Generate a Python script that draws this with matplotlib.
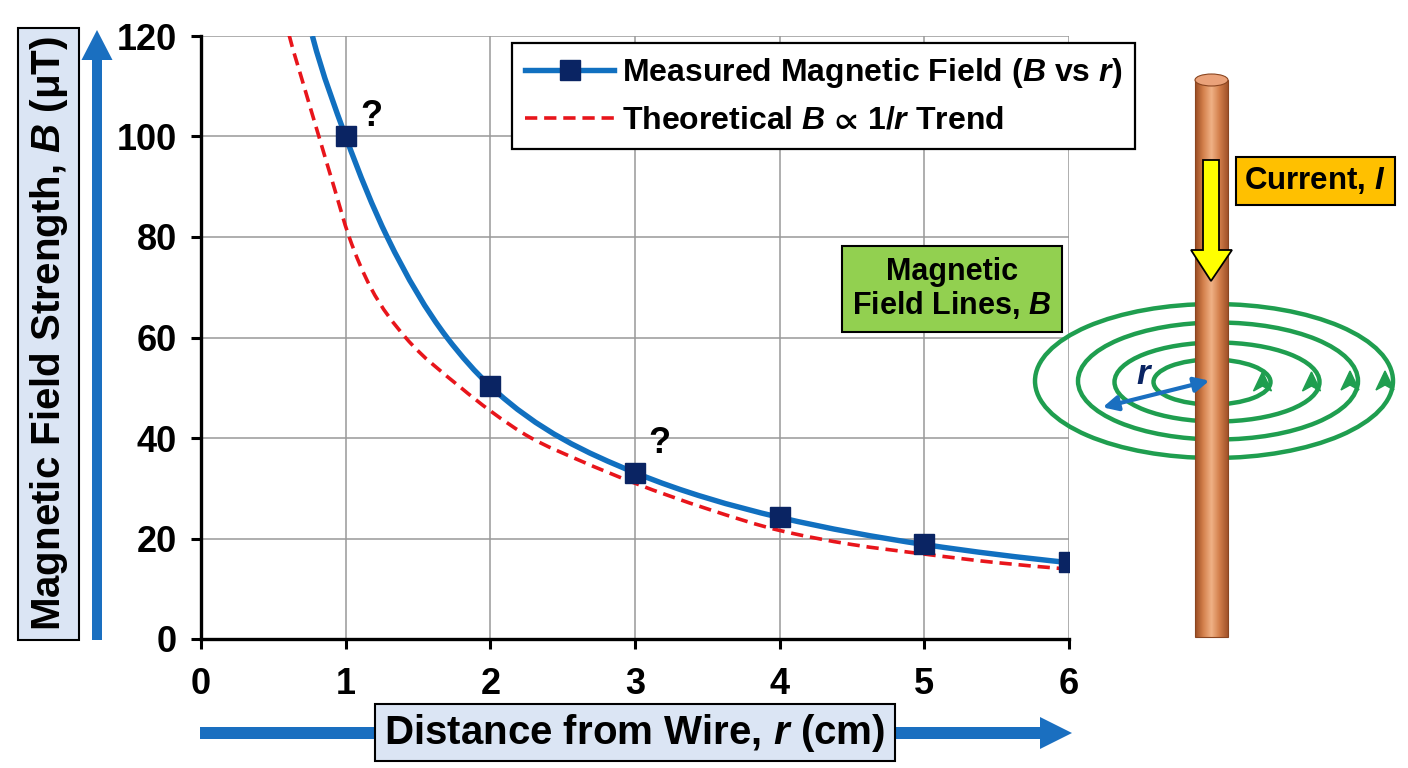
import numpy as np
import matplotlib
matplotlib.use("Agg")
import matplotlib.pyplot as plt
from matplotlib.lines import Line2D
from matplotlib.path import Path
from matplotlib.patches import Rectangle, Ellipse, Polygon, FancyArrow, PathPatch
from matplotlib.colors import LinearSegmentedColormap

plt.rcParams['font.family'] = ['Liberation Sans', 'DejaVu Sans']
plt.rcParams['font.weight'] = 'bold'
plt.rcParams['mathtext.fontset'] = 'custom'
plt.rcParams['mathtext.rm'] = 'Liberation Sans:bold'
plt.rcParams['mathtext.it'] = 'Liberation Sans:italic:bold'
plt.rcParams['mathtext.bf'] = 'Liberation Sans:bold'
plt.rcParams['mathtext.fallback'] = 'stixsans'

# measured points
meas_r = [1, 2, 3, 4, 5, 6]
meas_B = [100, 50.3, 33.1, 24.2, 18.9, 15.3]

# smooth measured curve
blue_r = [0.770, 1.0, 1.287, 1.70, 2.0, 3.0, 4.0, 5.0, 6.0]
blue_B = [120, 100, 80, 60, 50.3, 33.1, 24.2, 18.8, 15.2]

# theoretical 1/r trend
red_r = [0.609, 0.713, 0.816, 0.919, 1.023, 1.172, 1.414, 1.793, 2.0, 2.276, 2.62, 3.0,
         3.5, 4.0, 4.5, 5.0, 5.5, 6.0]
red_B = [120.2, 109.9, 99.9, 90, 80.1, 70, 60, 50.1, 45.4, 40.1, 35.5, 31.0,
         25.9, 21.6, 18.8, 16.9, 15.2, 13.9]

xticks = [0, 1, 2, 3, 4, 5, 6]
yticks = [0, 20, 40, 60, 80, 100, 120]
question_r = [1.18, 3.17]
question_B = [104, 39]

blue = '#1170c0'
navy = '#0a2463'
red = '#e8151b'
arrow_blue = '#1a6fc0'
dash = (0, (3.4, 1.9))


def smooth_path(xs, ys):
    # bezier segments through the read points; tangents taken from log-log slopes
    x = np.asarray(xs, float)
    y = np.asarray(ys, float)
    lx, ly = np.log(x), np.log(y)
    hl = np.diff(lx)
    dl = np.diff(ly) / hl
    s = np.empty_like(x)
    s[0], s[-1] = dl[0], dl[-1]
    s[1:-1] = (dl[1:] * hl[:-1] + dl[:-1] * hl[1:]) / (hl[:-1] + hl[1:])
    m = s * y / x
    h = np.diff(x)
    verts = [(x[0], y[0])]
    codes = [Path.MOVETO]
    for i in range(len(x) - 1):
        verts += [(x[i] + h[i] / 3, y[i] + m[i] * h[i] / 3),
                  (x[i + 1] - h[i] / 3, y[i + 1] - m[i + 1] * h[i] / 3),
                  (x[i + 1], y[i + 1])]
        codes += [Path.CURVE4] * 3
    return Path(verts, codes)


W, H = 1408, 768
fig = plt.figure(figsize=(W/100, H/100), dpi=100)
ax = fig.add_axes([201/W, 1-639/H, (1069-201)/W, (639-36)/H])

ax.add_patch(PathPatch(smooth_path(red_r, red_B), fill=False, ec=red, lw=2.6, ls=dash, zorder=3))
ax.add_patch(PathPatch(smooth_path(blue_r, blue_B), fill=False, ec=blue, lw=3.9, zorder=4))
ax.plot(meas_r, meas_B, ls='none', marker='s', ms=15, mfc=navy, mec=navy, zorder=5)
for qr, qb in zip(question_r, question_B):
    ax.text(qr, qb, '?', fontsize=26, fontweight='bold', ha='center', va='center', zorder=6)

ax.set_xlim(0, 6)
ax.set_ylim(0, 120)
ax.set_xticks(xticks)
ax.set_yticks(yticks)
ax.tick_params(labelsize=26, width=2.2, length=7, direction='out')
ax.tick_params(axis='x', pad=13)
ax.tick_params(axis='y', pad=10.5)
for lab in ax.get_xticklabels() + ax.get_yticklabels():
    lab.set_fontweight('bold')
ax.grid(True, color='#999999', lw=1.1)
ax.set_axisbelow(True)
for s in ['top', 'right']:
    ax.spines[s].set_visible(False)
for s in ['left', 'bottom']:
    ax.spines[s].set_linewidth(2.4)

handles = [Line2D([], [], color=blue, lw=3.9, marker='s', ms=15, mfc=navy, mec=navy),
           Line2D([], [], color=red, lw=2.6, ls=dash)]
labels = ['Measured Magnetic Field ($B$ vs $r$)', 'Theoretical $B$ $\u221d$ 1/$r$ Trend']
leg = ax.legend(handles, labels, loc='upper left', bbox_to_anchor=(512/W, 1-43/H),
                bbox_transform=fig.transFigure, borderaxespad=0, fontsize=23,
                handlelength=2.8, handletextpad=0.25, labelspacing=0.5,
                borderpad=0.4, fancybox=False, framealpha=1, edgecolor='black')
leg.get_frame().set_linewidth(1.6)
for t in leg.get_texts():
    t.set_fontweight('bold')

# overlay in pixel coordinates for the illustration and the label boxes
ov = fig.add_axes([0, 0, 1, 1], zorder=5)
ov.axis('off')
ov.patch.set_alpha(0)

# y label box and arrow
ov.add_patch(Rectangle((18, 28), 61, 612, fc='#dbe5f4', ec='black', lw=1.5))
ov.text(49, 334, 'Magnetic Field Strength, $B$ (\u03bcT)', rotation=90, fontsize=29,
        fontweight='bold', ha='center', va='center')
ov.add_patch(FancyArrow(97, 640, 0, -610, width=10, head_width=31, head_length=30,
                        length_includes_head=True, color=arrow_blue, lw=0))

# x label box and arrow
ov.add_patch(FancyArrow(200, 733, 872, 0, width=12, head_width=32, head_length=32,
                        length_includes_head=True, color=arrow_blue, lw=0))
ov.add_patch(Rectangle((375, 704), 520, 57, fc='#dbe5f4', ec='black', lw=1.5, zorder=3))
ov.text(635, 733, 'Distance from Wire, $r$ (cm)', fontsize=29, fontweight='bold',
        ha='center', va='center', zorder=4)

# field lines
green = '#1f9e4f'
rings = [(1214, 381, 358, 154), (1218, 381, 280, 117), (1217, 382, 205, 79), (1212, 382, 117, 45)]
for cx, cy, w, h in rings:
    ov.add_patch(Ellipse((cx, cy), w, h, fill=False, ec=green, lw=3.2))
    xr = cx + w/2
    ov.add_patch(Polygon([(xr - 8, cy - 10), (xr - 17, cy + 9), (xr - 8, cy + 4), (xr + 1, cy + 9)],
                         closed=True, fc=green, ec=green, lw=1))

# wire with copper gradient
copper = LinearSegmentedColormap.from_list('copper_wire', ['#9a4b22', '#d4814c', '#f0b286', '#d27e4a', '#a2532a'])
grad = np.linspace(0, 1, 64).reshape(1, -1)
wire = Rectangle((1195, 80), 33, 557, fc='none', ec='#8a4520', lw=0.8, zorder=6)
ov.add_patch(wire)
im = ov.imshow(grad, cmap=copper, extent=[1195, 1228, 637, 80], aspect='auto', zorder=5)
im.set_clip_path(wire)
ov.add_patch(Ellipse((1211.5, 80), 33, 12, fc='#eaa27a', ec='#8a4520', lw=0.8, zorder=7))
ov.set_xlim(0, W)
ov.set_ylim(H, 0)

# current arrow
ov.add_patch(Polygon([(1203, 160), (1219, 160), (1219, 250), (1232, 250), (1211, 281),
                      (1191, 250), (1203, 250)], closed=True, fc='#ffff00', ec='black',
                     lw=1.3, zorder=8))
ov.add_patch(Rectangle((1236, 157), 159, 48, fc='#ffc000', ec='black', lw=1.5, zorder=8))
ov.text(1315, 181, 'Current, $I$', fontsize=22.5, fontweight='bold', ha='center',
        va='center', zorder=9)

# radius arrow
ov.annotate('', xy=(1100, 408), xytext=(1212, 380),
            arrowprops=dict(arrowstyle='<|-|>', color=arrow_blue, lw=3, mutation_scale=22),
            zorder=9)
ov.text(1143, 374, 'r', fontsize=25, fontweight='bold', style='italic', color=navy,
        ha='center', va='center', zorder=9)

# field lines label
ov.add_patch(Rectangle((842, 246), 220, 86, fc='#92d050', ec='black', lw=1.5, zorder=8))
ov.text(952, 289, 'Magnetic\nField Lines, $B$', fontsize=22, fontweight='bold',
        ha='center', va='center', linespacing=1.1, zorder=9)

fig.savefig('out.png', dpi=100)
